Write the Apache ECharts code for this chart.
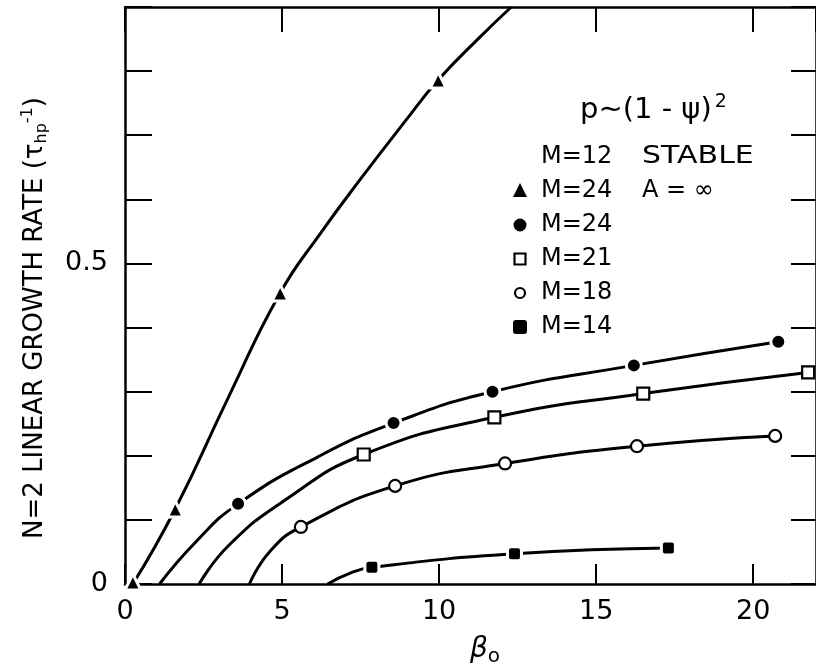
<!DOCTYPE html>
<html>
<head>
<meta charset="utf-8">
<script src="https://cdn.jsdelivr.net/npm/echarts@6/dist/echarts.min.js"></script>
<style>html,body{margin:0;padding:0;background:#fff;}#c{width:816px;height:670px;}</style>
</head>
<body>
<div id="c"></div>
<script>
// ---- data ----
const xTickLabels = [0, 5, 10, 15, 20];
const yTickLabels = [0, 0.5];

// M=24, A=inf (triangles)
const triCurve = [[0.25, 0], [1.6, 0.117], [3.3, 0.292], [4.94, 0.454], [6.24, 0.548], [7.52, 0.633], [8.89, 0.72], [9.97, 0.786], [11.3, 0.853], [12.3, 0.9]];
const triPts = [[0.25, 0.003], [1.6, 0.117], [4.94, 0.454], [9.97, 0.786]];
// M=24 (filled circles)
const fcCurve = [[1.1, 0], [2.26, 0.066], [3.6, 0.125], [6.13, 0.198], [8.55, 0.251], [11.7, 0.300], [16.2, 0.341], [20.8, 0.378]];
const fcPts = [[3.6, 0.125], [8.55, 0.251], [11.7, 0.300], [16.2, 0.341], [20.8, 0.378]];
// M=21 (open squares)
const osCurve = [[2.36, 0], [3.3, 0.06], [5.1, 0.131], [7.6, 0.202], [11.76, 0.26], [16.5, 0.297], [21.75, 0.33]];
const osPts = [[7.6, 0.202], [11.76, 0.26], [16.5, 0.297], [21.75, 0.33]];
// M=18 (open circles)
const ocCurve = [[3.96, 0], [4.6, 0.05], [5.6, 0.089], [8.6, 0.153], [12.1, 0.188], [16.3, 0.215], [20.7, 0.231]];
const ocPts = [[5.6, 0.089], [8.6, 0.153], [12.1, 0.188], [16.3, 0.215], [20.7, 0.231]];
// M=14 (filled squares)
const fsCurve = [[6.45, 0], [7.17, 0.017], [7.86, 0.026], [12.4, 0.047], [17.3, 0.056]];
const fsPts = [[7.86, 0.026], [12.4, 0.047], [17.3, 0.056]];

const FONT = 'DejaVu Sans';
const chart = echarts.init(document.getElementById('c'), null, {renderer: 'canvas'});

function curve(data) {
  return {type: 'line', data: data, smooth: 0.5, showSymbol: false, symbol: 'none',
    lineStyle: {color: '#000', width: 3}, z: 2, silent: true, animation: false};
}
function marks(data, symbol, size, filled) {
  return {type: 'scatter', data: data, symbol: symbol, symbolSize: size, z: 3, animation: false, silent: true,
    itemStyle: filled ? {color: '#000', borderColor: '#fff', borderWidth: 3, opacity: 1}
                      : {color: '#fff', borderColor: '#000', borderWidth: 2.2, opacity: 1}};
}

const tickLineX = {show: true, inside: true, length: 20, lineStyle: {color: '#000', width: 2}};
const tickLineY = {show: true, inside: true, length: 27, lineStyle: {color: '#000', width: 2}};
const axLine = {show: true, onZero: false, lineStyle: {color: '#000', width: 2.5}};

const legendRows = [
  {sym: 'triangle', filled: true, text: 'M=24', y: 191},
  {sym: 'circle', filled: true, text: 'M=24', y: 225},
  {sym: 'rect', filled: false, text: 'M=21', y: 259},
  {sym: 'circle', filled: false, text: 'M=18', y: 293},
  {sym: 'rect', filled: true, text: 'M=14', y: 327}
];
const graphics = [];
const txt = (x, y, s, sx) => ({type: 'text', x: x, y: y, scaleX: sx || 1, style: {text: s, font: '24px "' + FONT + '"', fill: '#000', verticalAlign: 'middle'}});
legendRows.forEach(r => {
  let shape;
  const st = r.filled ? {fill: '#000'} : {fill: '#fff', stroke: '#000', lineWidth: 2.2};
  if (r.sym === 'triangle') shape = {type: 'polygon', shape: {points: [[520, r.y - 8], [513, r.y + 6], [527, r.y + 6]]}, style: st};
  else if (r.sym === 'circle') shape = {type: 'circle', shape: {cx: 520, cy: r.y, r: r.filled ? 6.5 : 5}, style: st};
  else shape = {type: 'rect', shape: {x: r.filled ? 513 : 514.5, y: r.y - (r.filled ? 7 : 5.5), width: r.filled ? 14 : 11, height: r.filled ? 14 : 11, r: r.filled ? 3 : 0}, style: st};
  graphics.push(shape);
  graphics.push(txt(541, r.y, r.text));
});
graphics.push(txt(541, 157, 'M=12'));
graphics.push(txt(642, 157, 'STABLE', 1.25));
graphics.push(txt(642, 191, 'A = ∞'));
graphics.push({type: 'text', x: 580, y: 110, style: {
  text: '{a|p∼(1 - ψ)}{s|2}', fill: '#000', verticalAlign: 'middle',
  rich: {a: {fontFamily: FONT, fontSize: 29, fill: '#000'}, s: {fontFamily: FONT, fontSize: 19, fill: '#000', verticalAlign: 'top', padding: [0, 0, 16, 3]}}
}});
// x axis name
graphics.push({type: 'text', x: 470, y: 650, style: {
  text: '{b|β}{o|o}', fill: '#000', verticalAlign: 'middle',
  rich: {b: {fontFamily: FONT, fontStyle: 'italic', fontSize: 28, fill: '#000'}, o: {fontFamily: FONT, fontSize: 20, fill: '#000', padding: [14, 0, 0, 0]}}
}});
// y axis name
graphics.push({type: 'text', x: 35, y: 318, rotation: Math.PI / 2, style: {
  text: '{t|N=2 LINEAR GROWTH RATE (τ}{s|hp}{p|-1}{t|)}', fill: '#000', align: 'center', verticalAlign: 'middle',
  rich: {t: {fontFamily: FONT, fontSize: 26, fill: '#000'},
         s: {fontFamily: FONT, fontSize: 16, fill: '#000', padding: [14, 0, 0, 0]},
         p: {fontFamily: FONT, fontSize: 16, fill: '#000', padding: [0, 0, 14, 0]}}
}});

const option = {
  backgroundColor: '#fff',
  animation: false,
  grid: {left: 125, right: -9, top: 7, bottom: 86, containLabel: false},
  xAxis: [
    {type: 'value', position: 'bottom', min: 0, max: 22, interval: 5,
     axisLine: axLine, axisTick: tickLineX, splitLine: {show: false},
     axisLabel: {show: true, margin: 14, showMaxLabel: false, fontFamily: FONT, fontSize: 27, color: '#000',
       formatter: v => xTickLabels.includes(v) ? String(v) : ''}},
    {type: 'value', position: 'top', min: 0, max: 22, interval: 5,
     axisLine: axLine, axisTick: Object.assign({}, tickLineX, {length: 25}), splitLine: {show: false},
     axisLabel: {show: false}}
  ],
  yAxis: [
    {type: 'value', position: 'left', min: 0, max: 0.9, interval: 0.1,
     axisLine: axLine, axisTick: tickLineY, splitLine: {show: false},
     axisLabel: {show: true, margin: 17, align: 'right', fontFamily: FONT, fontSize: 27, color: '#000',
       formatter: v => yTickLabels.some(t => Math.abs(t - v) < 1e-9) ? String(v) : ''}},
    {type: 'value', position: 'right', min: 0, max: 0.9, interval: 0.1,
     axisLine: axLine, axisTick: Object.assign({}, tickLineY, {length: 25}), splitLine: {show: false},
     axisLabel: {show: false}}
  ],
  series: [
    curve(triCurve), curve(fcCurve), curve(osCurve), curve(ocCurve), curve(fsCurve),
    marks(triPts, 'triangle', 16, true),
    marks(fcPts, 'circle', 15, true),
    marks(osPts, 'rect', 12, false),
    marks(ocPts, 'circle', 12, false),
    marks(fsPts, 'roundRect', 14, true)
  ],
  graphic: graphics
};
chart.setOption(option);
</script>
</body>
</html>
